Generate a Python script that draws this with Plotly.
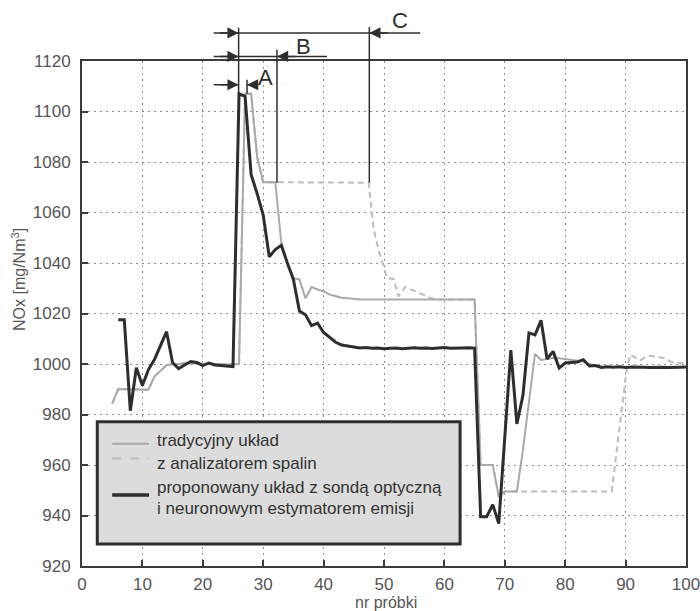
import plotly.graph_objects as go

# ---------------- data ----------------
x_prop = list(range(6, 101))
y_prop = [1017.5, 1017.5, 981.5, 998.5, 991.5, 997.8, 1001.8, 1007.0, 1012.8, 1000.5,
          998.2, 999.6, 1001.0, 1000.6, 999.4, 1000.4, 999.6, 999.4, 999.2, 999.0,
          1107.0, 1106.0, 1075.0, 1067.5, 1059.0, 1042.5, 1045.3, 1047.0, 1040.0, 1033.5,
          1021.0, 1019.5, 1015.2, 1016.2, 1012.5, 1010.5, 1008.6, 1007.5, 1007.2, 1006.8,
          1006.3, 1006.5, 1006.2, 1006.3, 1006.0, 1006.2, 1006.3, 1006.0, 1006.2, 1006.4,
          1006.2, 1006.3, 1006.1, 1006.3, 1006.5, 1006.2, 1006.4, 1006.3, 1006.4, 1006.3,
          939.5, 939.5, 944.3, 936.8, 971.0, 1005.5, 976.3, 987.5, 1012.3, 1011.5,
          1017.3, 1002.0, 1005.0, 998.4, 1000.4, 1000.6, 1000.8, 1001.7, 999.2, 999.4,
          998.6, 998.9, 998.7, 998.9, 998.6, 998.8, 998.6, 998.7, 998.6, 998.8,
          998.7, 998.6, 998.8, 998.7, 998.8]

x_trad = list(range(5, 101))
y_trad = [984.3, 990.1, 990.0, 990.0, 990.0, 990.0, 989.8, 995.1, 997.2, 999.5,
          1000.0, 1000.0, 1000.4, 1000.6, 1000.4, 1000.0, 1000.2, 1000.0, 999.8, 999.8,
          999.8, 1000.0, 1107.0, 1107.0, 1082.0, 1072.0, 1072.0, 1072.0, 1048.0, 1040.0,
          1034.0, 1033.5, 1026.0, 1030.5, 1029.5, 1028.8, 1027.5, 1026.8, 1026.2, 1026.0,
          1025.7, 1025.5, 1025.5, 1025.5, 1025.5, 1025.5, 1025.5, 1025.5, 1025.5, 1025.5,
          1025.5, 1025.5, 1025.5, 1025.5, 1025.5, 1025.5, 1025.5, 1025.5, 1025.5, 1025.5,
          1025.5, 960.0, 960.0, 960.0, 947.6, 949.5, 949.5, 949.5, 966.0, 986.0,
          1004.0, 1001.6, 1002.0, 1002.4, 1002.3, 1002.0, 1001.8, 1001.5, 1001.0, 1000.0,
          999.4, 999.0, 998.8, 998.8, 998.8, 998.8, 998.8, 998.8, 998.8, 998.8,
          998.8, 998.8, 998.8, 998.8, 998.8, 998.8]

x_anal = [5, 6, 11, 12, 13, 14, 15, 26, 27, 28, 29, 30, 47.45, 47.7, 48.3, 49.1, 49.9, 50.5,
          51.6, 52.4, 53.5, 54.9, 56.0, 57.7, 59, 65, 66, 68, 69, 70, 87.7, 90.2, 90.8,
          92.4, 93.3, 94.1, 96.3, 97.9, 99.5, 100]
y_anal = [984.3, 990.1, 989.8, 995.1, 997.2, 999.5, 1000.0, 1000.0, 1107.0, 1107.0, 1082.0,
          1072.0, 1071.8, 1066.4, 1053.2, 1045.3, 1039.3, 1034.0, 1033.7, 1026.8, 1030.5,
          1029.2, 1028.0, 1026.1, 1025.6, 1025.5, 960.0, 960.0, 947.6, 949.5, 949.5, 998.4,
          1003.7, 1001.4, 1002.8, 1003.3, 1002.4, 1000.4, 1000.4, 1000.0]

x_ticks = [0, 10, 20, 30, 40, 50, 60, 70, 80, 90, 100]
y_ticks = [920, 940, 960, 980, 1000, 1020, 1040, 1060, 1080, 1100, 1120]

legend_labels = ["tradycyjny układ", "z analizatorem spalin",
                 "proponowany układ z sondą optyczną", "i neuronowym estymatorem emisji"]

# annotation geometry (data units)
ann_C_y, ann_B_y, ann_A_y = 1131.1, 1121.8, 1110.6
line_start_x = 21.8
peak_x = 25.93
B_x, C_x, A_x = 32.28, 47.57, 27.32

X0, X1 = 0, 100
Y0, Y1 = 920, 1120

def px(x):
    return (x - X0) / (X1 - X0)

def py(y):
    return (y - Y0) / (Y1 - Y0)

FONT = "Liberation Sans, Arial, Helvetica, sans-serif"
GRAY_SOLID = "#a9a9a9"
GRAY_DASH = "#bdbdbd"
DARK = "#2e2e2e"

fig = go.Figure()
fig.add_trace(go.Scatter(x=x_anal, y=y_anal, mode="lines", name=legend_labels[1],
                         line=dict(color=GRAY_DASH, width=2, dash="6px,4px"), showlegend=False))
fig.add_trace(go.Scatter(x=x_trad, y=y_trad, mode="lines", name=legend_labels[0],
                         line=dict(color=GRAY_SOLID, width=2), showlegend=False))
fig.add_trace(go.Scatter(x=x_prop, y=y_prop, mode="lines", name=legend_labels[2],
                         line=dict(color=DARK, width=3), showlegend=False))

shapes = []
anns = []

def pline(x0, y0, x1, y1, color=DARK, width=1.5):
    shapes.append(dict(type="line", xref="paper", yref="paper",
                       x0=px(x0), y0=py(y0), x1=px(x1), y1=py(y1),
                       line=dict(color=color, width=width), layer="above"))

def arrow(x, y, ax):
    anns.append(dict(xref="paper", yref="paper", x=px(x), y=py(y), ax=ax, ay=0,
                     text="", showarrow=True, arrowhead=2, arrowsize=1.6,
                     arrowwidth=1.4, arrowcolor=DARK))

# C
pline(line_start_x, ann_C_y, 56.0, ann_C_y)
pline(peak_x, 1133.2, peak_x, 1107.0)
pline(C_x, 1133.4, C_x, 1071.8)
arrow(peak_x, ann_C_y, -20)
arrow(C_x, ann_C_y, 20)
# B
pline(line_start_x, ann_B_y, 40.56, ann_B_y)
pline(B_x, 1124.5, B_x, 1071.8)
arrow(peak_x, ann_B_y, -20)
arrow(B_x, ann_B_y, 20)
# A
pline(line_start_x, ann_A_y, peak_x, ann_A_y)
pline(29.19, ann_A_y, A_x, ann_A_y)
pline(A_x, 1112.6, A_x, 1107.0)
arrow(peak_x, ann_A_y, -20)
arrow(A_x, ann_A_y, 10)

for lbl, lx, ly in [("C", 52.7, 1136.0), ("B", 36.6, 1125.6), ("A", 30.35, 1113.4)]:
    anns.append(dict(xref="paper", yref="paper", x=px(lx), y=py(ly), text=lbl,
                     showarrow=False, font=dict(family=FONT, size=22, color=DARK),
                     xanchor="center", yanchor="middle"))

# legend box
shapes.append(dict(type="rect", xref="x", yref="y", x0=2.53, x1=62.6, y0=928.7, y1=977.1,
                   fillcolor="#dcdcdc", line=dict(color=DARK, width=3), layer="above"))
leg_lines = [(968.4, GRAY_SOLID, 2, "solid"), (962.6, GRAY_DASH, 2, "dash"), (948.1, DARK, 3.5, "solid")]
for ly, col, w, d in leg_lines:
    shapes.append(dict(type="line", xref="x", yref="y", x0=5.0, x1=11.1, y0=ly, y1=ly,
                       line=dict(color=col, width=w, dash=d), layer="above"))
for lbl, ly in zip(legend_labels, [969.6, 960.5, 951.0, 942.7]):
    anns.append(dict(xref="x", yref="y", x=12.1, y=ly, text=lbl, showarrow=False,
                     xanchor="left", yanchor="middle",
                     font=dict(family=FONT, size=17, color="#333333")))

# axis titles
anns.append(dict(xref="paper", yref="paper", x=0.503, y=-0.073, text="nr próbki",
                 showarrow=False, xanchor="center", yanchor="middle",
                 font=dict(family=FONT, size=16, color="#555555")))
anns.append(dict(xref="paper", yref="paper", x=-0.1055, y=0.567,
                 text="NOx [mg/Nm<sup>3</sup>]", textangle=-90, showarrow=False,
                 xanchor="center", yanchor="middle",
                 font=dict(family=FONT, size=16, color="#555555")))

axis_common = dict(showgrid=True, griddash="2px,4px", gridcolor="#8f8f8f", gridwidth=1.3,
                   showline=True, linecolor="#3a3a3a", linewidth=2, mirror=True,
                   ticks="inside", ticklen=6, tickcolor="#3a3a3a", tickwidth=1.5,
                   zeroline=False, automargin=False, ticklabeloverflow="allow",
                   tickfont=dict(family=FONT, size=17, color="#555555"))

fig.update_layout(
    width=700, height=611,
    margin=dict(l=82, r=14, t=61, b=45, autoexpand=False),
    paper_bgcolor="white", plot_bgcolor="white",
    xaxis=dict(range=[X0, X1], tickvals=x_ticks, ticklabelstandoff=2, **axis_common),
    yaxis=dict(range=[Y0, Y1], tickvals=y_ticks, ticklabelstandoff=6, **axis_common),
    shapes=shapes, annotations=anns,
)

fig.write_html("out.html", config={"displayModeBar": False},
               post_script="document.body.style.margin='0';document.body.style.overflow='hidden';")
